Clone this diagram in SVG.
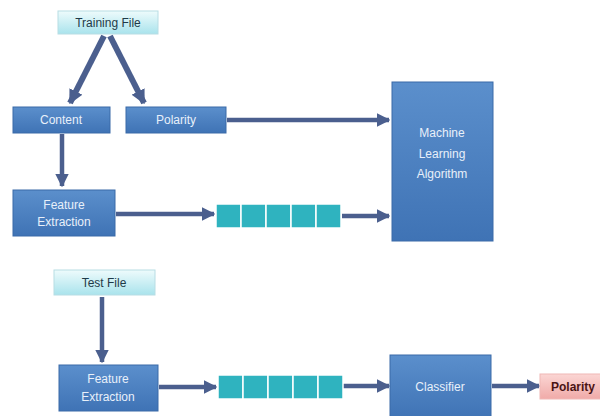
<svg xmlns="http://www.w3.org/2000/svg" width="600" height="416" viewBox="0 0 600 416">
<defs>
<linearGradient id="blue" x1="0" y1="0" x2="0" y2="1">
<stop offset="0" stop-color="#5b8fcc"/><stop offset="1" stop-color="#3f73b5"/>
</linearGradient>
<linearGradient id="cyan" x1="0" y1="0" x2="0" y2="1">
<stop offset="0" stop-color="#eefbfc"/><stop offset="1" stop-color="#a9e3ec"/>
</linearGradient>
<linearGradient id="pink" x1="0" y1="0" x2="0" y2="1">
<stop offset="0" stop-color="#fbd6d4"/><stop offset="1" stop-color="#f0aaa8"/>
</linearGradient>
<marker id="ah" viewBox="0 0 10 10" refX="9" refY="5" markerWidth="3" markerHeight="3" orient="auto" markerUnits="strokeWidth">
<path d="M0,0 L10,5 L0,10 z" fill="#4b5f8e"/>
</marker>
<marker id="ah2" viewBox="0 0 10 10" refX="9" refY="5" markerWidth="2.4" markerHeight="2.4" orient="auto" markerUnits="strokeWidth">
<path d="M0,0 L10,5 L0,10 z" fill="#4b5f8e"/>
</marker>
</defs>
<style>
.b{fill:url(#blue);stroke:#3a6aa8;stroke-width:1}
.c{fill:url(#cyan);stroke:#b8dde4;stroke-width:1}
.p{fill:url(#pink);stroke:#f0b8b6;stroke-width:1}
.q{fill:#2fb3bf;stroke:#ffffff;stroke-width:1.5}
.w{font-family:"Liberation Sans",Arial,sans-serif;font-size:12px;fill:#e8f0fa;text-anchor:middle}
.d{font-family:"Liberation Sans",Arial,sans-serif;font-size:12px;fill:#1f3a48;text-anchor:middle}
.k{font-family:"Liberation Sans",Arial,sans-serif;font-size:12px;font-weight:bold;fill:#4a1414;text-anchor:middle}
.a{stroke:#4b5f8e;stroke-width:4.5;fill:none;marker-end:url(#ah)}
.t{stroke:#4b5f8e;stroke-width:6;fill:none;marker-end:url(#ah2)}
</style>
<g id="connectors">
<line class="t" x1="104" y1="36" x2="70" y2="103"/>
<line class="t" x1="110" y1="36" x2="144" y2="103"/>
<line class="a" x1="62" y1="134" x2="62" y2="186"/>
<line class="a" x1="227" y1="120" x2="389" y2="120"/>
<line class="a" x1="116" y1="214" x2="214" y2="214"/>
<line class="a" x1="342" y1="216" x2="389" y2="216"/>
<line class="a" x1="102" y1="297" x2="102" y2="362"/>
<line class="a" x1="159" y1="387" x2="216" y2="387"/>
<line class="a" x1="343" y1="386" x2="389" y2="386"/>
<line class="a" x1="492" y1="386" x2="539" y2="386"/>
</g>
<g id="training-file"><rect class="c" x="58" y="11" width="100" height="23"/><text class="d" x="108" y="27">Training File</text></g>
<g id="content"><rect class="b" x="13" y="107" width="97" height="26"/><text class="w" x="61" y="124">Content</text></g>
<g id="polarity-train"><rect class="b" x="126" y="107" width="100" height="26"/><text class="w" x="176" y="124">Polarity</text></g>
<g id="feature-extraction-train"><rect class="b" x="13" y="190" width="102" height="46"/><text class="w" x="64" y="209">Feature</text><text class="w" x="64" y="226">Extraction</text></g>
<g id="queue-train">
<rect class="q" x="216" y="204" width="25" height="24"/><rect class="q" x="241" y="204" width="25" height="24"/><rect class="q" x="266" y="204" width="25" height="24"/><rect class="q" x="291" y="204" width="25" height="24"/><rect class="q" x="316" y="204" width="25" height="24"/>
</g>
<g id="ml-algorithm"><rect class="b" x="392" y="82" width="101" height="159"/><text class="w" x="442" y="137">Machine</text><text class="w" x="442" y="158">Learning</text><text class="w" x="442" y="178">Algorithm</text></g>
<g id="test-file"><rect class="c" x="54" y="270" width="101" height="25"/><text class="d" x="104" y="287">Test File</text></g>
<g id="feature-extraction-test"><rect class="b" x="59" y="365" width="99" height="46"/><text class="w" x="108" y="383">Feature</text><text class="w" x="108" y="401">Extraction</text></g>
<g id="queue-test">
<rect class="q" x="218" y="375" width="25" height="24"/><rect class="q" x="243" y="375" width="25" height="24"/><rect class="q" x="268" y="375" width="25" height="24"/><rect class="q" x="293" y="375" width="25" height="24"/><rect class="q" x="318" y="375" width="25" height="24"/>
</g>
<g id="classifier"><rect class="b" x="390" y="355" width="101" height="64"/><text class="w" x="440" y="391">Classifier</text></g>
<g id="polarity-out"><rect class="p" x="540" y="374" width="64" height="25"/><text class="k" x="573" y="391">Polarity</text></g>
</svg>
